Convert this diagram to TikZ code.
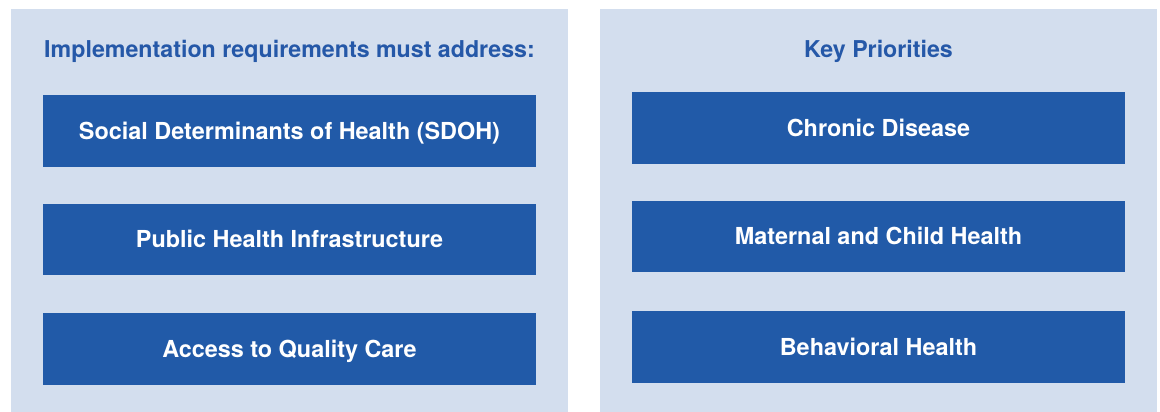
\documentclass[tikz,border=0pt]{standalone}
\usepackage{fontspec}
\setmainfont{TeX Gyre Heros}
\usepackage{xcolor}
\usepackage{tikz}
\usetikzlibrary{positioning}
\definecolor{PanelBlue}{HTML}{D3DEEE}
\definecolor{BoxBlue}{HTML}{215AA8}
\definecolor{TitleBlue}{HTML}{2558A8}
\tikzset{
  Panel/.style={
    rectangle, fill=PanelBlue, draw=none,
    minimum width=557pt, minimum height=403pt,
    inner sep=0pt, anchor=north west,
  },
  TopicBox/.style={
    rectangle, fill=BoxBlue, draw=none,
    minimum width=493pt, minimum height=71.5pt,
    inner sep=0pt, text=white,
    text height=16.8pt, text depth=0pt,
    font=\fontsize{23.4}{28}\selectfont\bfseries,
  },
  Heading/.style={
    text=TitleBlue, inner sep=0pt,
    text height=16.7pt, text depth=0pt,
    font=\fontsize{23.2}{28}\selectfont\bfseries,
  },
}

\begin{document}
\begin{tikzpicture}[x=1pt,y=-1pt]
\useasboundingbox (0,0) rectangle (1160,412);
\node[Panel] (LEFT) at (11,9) {};
\node[Panel] (RIGHT) at (600,9) {};
\node[Heading] (REQ) at (289.5,49) {Implementation requirements must address:};
\node[TopicBox] (SDOH) at (289.5,130.75) {Social Determinants of Health (SDOH)};
\node[TopicBox] (PHI) at (289.5,239.5) {Public Health Infrastructure};
\node[TopicBox] (ACC) at (289.5,349) {Access to Quality Care};
\node[Heading] (KEY) at (878.5,49) {Key Priorities};
\node[TopicBox] (CHR) at (878.5,128) {Chronic Disease};
\node[TopicBox] (MCH) at (878.5,236.5) {Maternal and Child Health};
\node[TopicBox] (BEH) at (878.5,347) {Behavioral Health};
\end{tikzpicture}
\end{document}
